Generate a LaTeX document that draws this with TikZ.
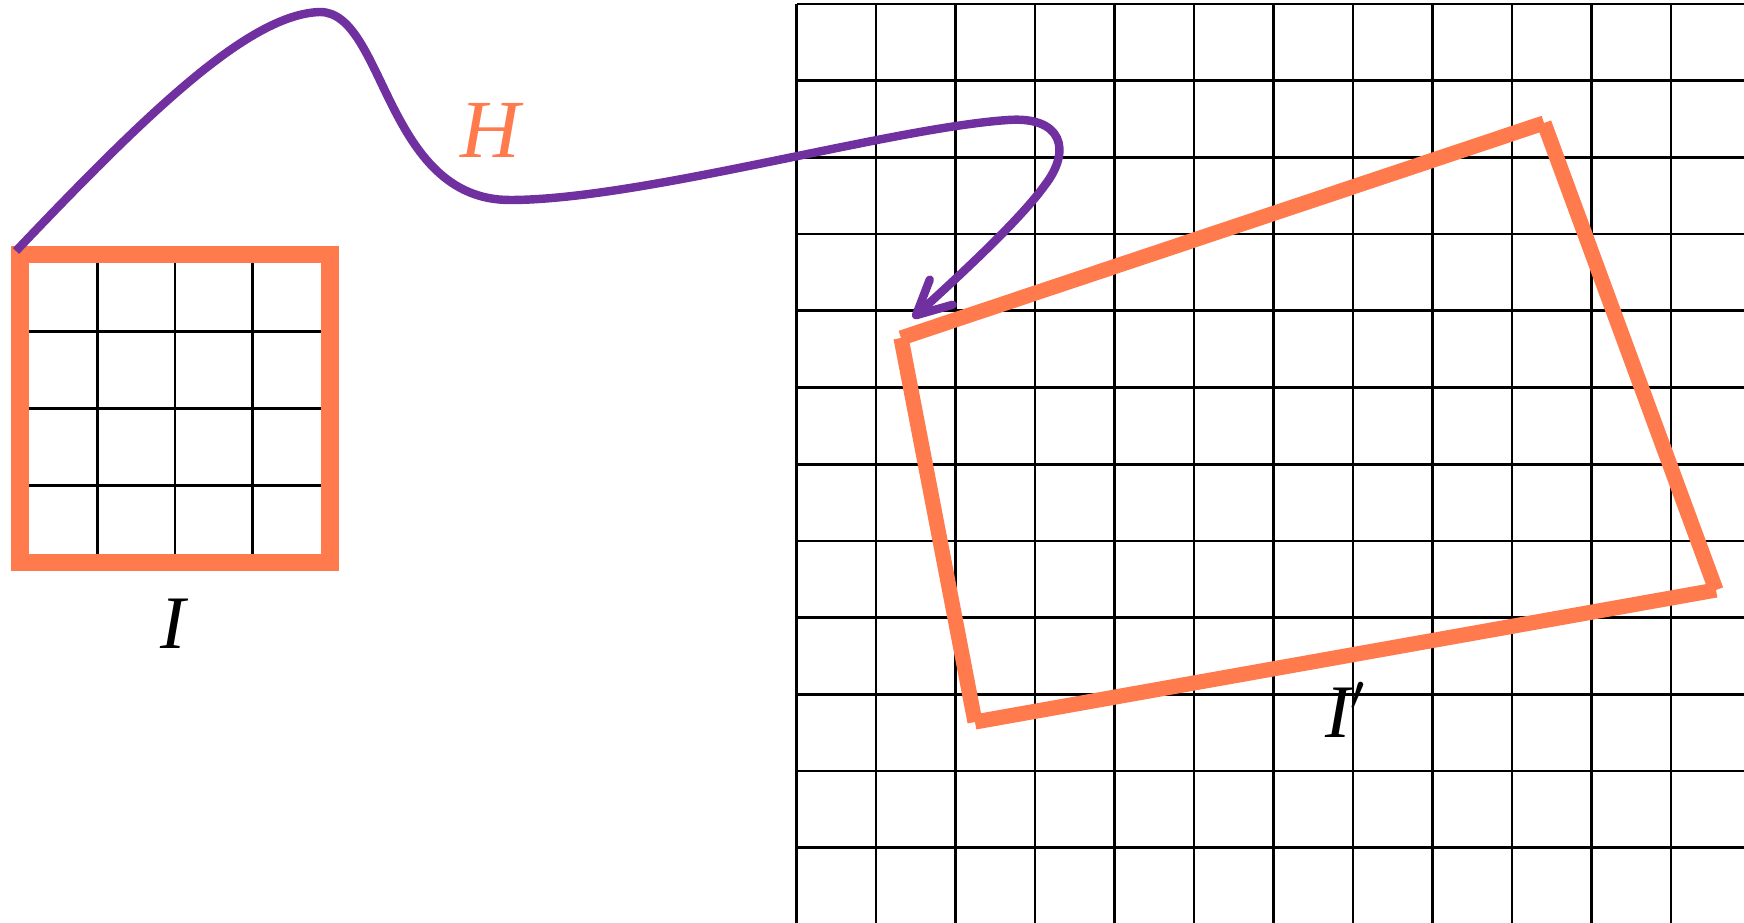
\documentclass[tikz,border=0pt]{standalone}
\usepackage{fontspec}
\setmainfont{Liberation Serif}
\usepackage{xcolor}
\usepackage{tikz}
\usetikzlibrary{arrows.meta}

\definecolor{coral}{RGB}{255,122,76}
\definecolor{hpurple}{RGB}{112,48,160}

\begin{document}
\begin{tikzpicture}[
  x=0.1mm,y=-0.1mm,
  gridline/.style={draw=black,line width=0.75pt},
  frame/.style={draw=coral,line width=5pt},
  img/.style={draw=coral,line width=4.3pt},
  hmap/.style={draw=hpurple,line width=2.4pt,-{Straight Barb[length=3.4mm,width=3.4mm,round]}},
  lbl/.style={inner sep=0pt,font=\fontsize{21.5}{25}\selectfont\itshape}]
\useasboundingbox (0,0) rectangle (1744,923);
% target grid
\foreach \k in {0,...,11} \draw[gridline] ({796.5+79.5*\k},4) -- ({796.5+79.5*\k},923);
\foreach \k in {0,...,11} \draw[gridline] (796.5,{4+76.7*\k}) -- (1744,{4+76.7*\k});
% source image I
\foreach \k in {1,2,3} {
  \draw[gridline] ({20+77.5*\k},254.7) -- ({20+77.5*\k},562.7);
  \draw[gridline] (20,{254.7+77*\k}) -- (330,{254.7+77*\k});
}
\draw[frame] (20,254.7) rectangle (330,562.7);
% warped image I'
\coordinate (qa) at (901,338);
\coordinate (qb) at (1544,123);
\coordinate (qc) at (1716,590);
\coordinate (qd) at (975,722);
\draw[img] (qa) -- (qb); \draw[img] (qb) -- (qc);
\draw[img] (qc) -- (qd); \draw[img] (qd) -- (qa);
% labels
\node[lbl] (ilab) at (173,624) {I};
\node[lbl] (iplab) at (1346,710) {I$'$};
\node[lbl,text=coral,font=\fontsize{23.5}{27}\selectfont\itshape] (hlab) at (490,130) {H};
% homography
\coordinate (itl) at (16,251);
\coordinate (hend) at (913,318);
\draw[hmap] (itl) .. controls (150,110) and (250,14) .. (320,12)
  .. controls (385,12) and (385,200) .. (510,200)
  .. controls (640,200) and (890,128) .. (1008,120)
  .. controls (1062,116) and (1072,150) .. (1045,185)
  .. controls (1020,220) and (960,275) .. (hend);
\end{tikzpicture}
\end{document}
